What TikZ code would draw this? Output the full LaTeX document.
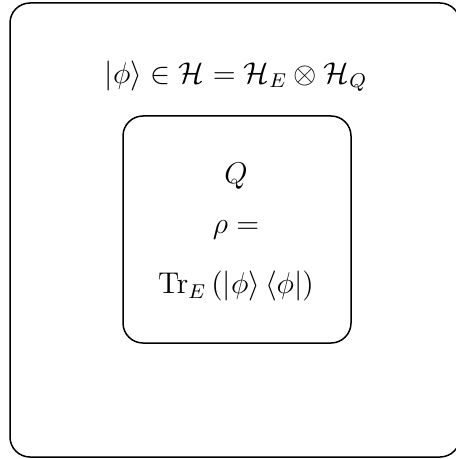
\documentclass[tikz,border=0pt]{standalone}
\usepackage{amsmath}
\begin{document}
\begin{tikzpicture}[
            x={(0.4pt,0pt)},
            y={(0pt,-0.4pt)},
            box/.style={draw, rounded corners=8pt, semithick},
            every node/.style={font=\large}
        ]
        \useasboundingbox (0,0) rectangle (455,459);
        \coordinate (O1) at (10,3);
        \coordinate (O2) at (460,457);
        \coordinate (I1) at (123,116);
        \coordinate (I2) at (351,343);

        \draw[box] (O1) rectangle (O2);
        \draw[box] (I1) rectangle (I2);
        \node (state) at (236,76) {$\left|\phi\right\rangle \in \mathcal{H} = \mathcal{H}_E \otimes \mathcal{H}_Q$};
        \node (sys) at (236,176) {$Q$};
        \node (rho) at (236,230) {$\rho =$};
        \node (trace) at (236,286) {$\mathrm{Tr}_E\left(\left|\phi\right\rangle\left\langle\phi\right|\right)$};
    \end{tikzpicture}
\end{document}
